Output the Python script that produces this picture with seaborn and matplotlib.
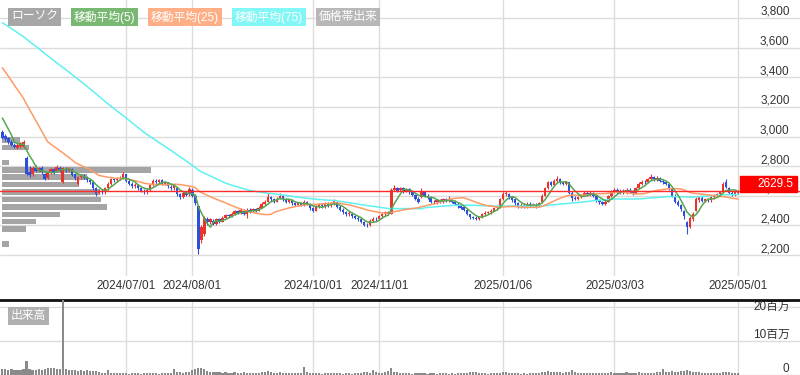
import numpy as np
import pandas as pd
import matplotlib
matplotlib.use("Agg")
import matplotlib.pyplot as plt
import matplotlib.transforms as mtransforms
from matplotlib.patches import Rectangle
import seaborn as sns

sns.set_theme(style="white")
plt.rcParams["font.family"] = ["Liberation Sans", "Noto Sans CJK JP"]

# ---------------- data ----------------
# closes before the visible window (only feed the moving averages)
pre_close = [3920, 3950, 3980, 3960, 3940, 3970, 4010, 3990, 3960, 3930,
             3950, 3980, 4000, 3970, 3940, 3920, 3950, 3990, 3960, 3930,
             3910, 3940, 3970, 3950, 3920, 3900, 3930, 3960, 3940, 3910,
             3890, 3920, 3950, 3930, 3900, 3880, 3910, 3940, 3920, 3890,
             3870, 3900, 3930, 3910, 3880, 3850,
             3780, 3750, 3720, 3740, 3700, 3680, 3710, 3690, 3660, 3690,
             3720, 3700, 3670, 3650, 3680, 3700, 3670, 3640, 3660,
             3180, 3150, 3120, 3160, 3140, 3170, 3150, 3140, 3170]

open_ = [3030, 3005, 2990, 2965, 2945, 2925, 2935, 2930, 2855, 2760,
         2745, 2790, 2770, 2790, 2745, 2720, 2760, 2780, 2770, 2790,
         2695, 2780, 2770, 2780, 2745, 2680, 2725, 2735, 2720, 2705,
         2690, 2650, 2620, 2635, 2625, 2650, 2680, 2710, 2705, 2715,
         2720, 2745, 2700, 2680, 2665, 2670, 2650, 2635, 2625, 2640,
         2670, 2700, 2690, 2705, 2680, 2690, 2660, 2650, 2650, 2610,
         2590, 2620, 2610, 2640, 2600, 2530, 2300, 2340, 2440, 2420,
         2430, 2410, 2440, 2425, 2450, 2470, 2465, 2480, 2495, 2485,
         2500, 2480, 2505, 2495, 2510, 2500, 2520, 2545, 2560, 2590,
         2575, 2560, 2580, 2600, 2575, 2560, 2570, 2550, 2540, 2550,
         2540, 2555, 2545, 2515, 2500, 2525, 2540, 2530, 2545, 2535,
         2545, 2555, 2525, 2505, 2490, 2475, 2480, 2460, 2450, 2440,
         2425, 2405, 2405, 2430, 2445, 2440, 2460, 2475, 2490, 2480,
         2640, 2650, 2640, 2650, 2635, 2645, 2625, 2605, 2580, 2590,
         2625, 2600, 2590, 2560, 2555, 2570, 2560, 2575, 2565, 2570,
         2560, 2545, 2530, 2525, 2505, 2475, 2455, 2450, 2440, 2455,
         2475, 2485, 2490, 2500, 2515, 2525, 2575, 2610, 2615, 2590,
         2575, 2550, 2530, 2540, 2530, 2545, 2535, 2540, 2530, 2555,
         2600, 2650, 2690, 2675, 2700, 2710, 2690, 2680, 2690, 2620,
         2585, 2580, 2590, 2605, 2620, 2610, 2620, 2600, 2570, 2555,
         2545, 2560, 2595, 2630, 2640, 2625, 2635, 2620, 2640, 2630,
         2615, 2650, 2680, 2695, 2690, 2710, 2725, 2710, 2720, 2700,
         2690, 2680, 2650, 2600, 2560, 2540, 2500, 2420, 2390, 2440,
         2500, 2570, 2585, 2565, 2575, 2570, 2590, 2600, 2610, 2625,
         2690, 2650, 2620, 2610, 2620]

close = [2990, 2985, 2960, 2945, 2930, 2945, 2955, 2960, 2750, 2740,
         2790, 2770, 2785, 2760, 2715, 2760, 2780, 2760, 2795, 2770,
         2785, 2770, 2785, 2740, 2720, 2725, 2735, 2720, 2705, 2690,
         2650, 2615, 2635, 2625, 2650, 2680, 2710, 2705, 2715, 2720,
         2745, 2700, 2680, 2665, 2675, 2650, 2635, 2630, 2640, 2670,
         2700, 2690, 2705, 2680, 2690, 2665, 2650, 2670, 2610, 2590,
         2620, 2605, 2645, 2600, 2550, 2240, 2390, 2450, 2420, 2440,
         2410, 2440, 2425, 2450, 2470, 2465, 2480, 2495, 2485, 2505,
         2480, 2505, 2495, 2510, 2500, 2520, 2545, 2560, 2590, 2575,
         2560, 2580, 2600, 2575, 2560, 2570, 2550, 2540, 2550, 2540,
         2555, 2545, 2515, 2500, 2525, 2540, 2530, 2545, 2535, 2550,
         2565, 2525, 2505, 2490, 2475, 2485, 2460, 2450, 2440, 2425,
         2405, 2400, 2430, 2445, 2440, 2460, 2475, 2490, 2480, 2640,
         2655, 2635, 2650, 2630, 2645, 2625, 2605, 2580, 2560, 2630,
         2600, 2590, 2560, 2555, 2570, 2560, 2575, 2565, 2575, 2560,
         2545, 2530, 2520, 2505, 2480, 2455, 2450, 2445, 2455, 2475,
         2485, 2490, 2500, 2515, 2525, 2575, 2615, 2620, 2590, 2570,
         2550, 2530, 2540, 2530, 2545, 2535, 2540, 2530, 2550, 2600,
         2650, 2690, 2675, 2700, 2715, 2690, 2680, 2690, 2620, 2585,
         2580, 2590, 2605, 2620, 2610, 2620, 2600, 2570, 2555, 2545,
         2560, 2595, 2630, 2640, 2625, 2635, 2620, 2640, 2630, 2615,
         2650, 2680, 2695, 2690, 2710, 2725, 2710, 2720, 2700, 2690,
         2680, 2650, 2600, 2560, 2540, 2510, 2460, 2390, 2450, 2480,
         2580, 2590, 2565, 2575, 2570, 2590, 2600, 2610, 2625, 2680,
         2660, 2620, 2610, 2625, 2629.5]

high = [3045, 3015, 3000, 2975, 2955, 2955, 2965, 2975, 2865, 2800,
        2800, 2805, 2795, 2800, 2755, 2770, 2790, 2790, 2805, 2800,
        2795, 2795, 2795, 2790, 2755, 2735, 2745, 2745, 2730, 2715,
        2695, 2660, 2645, 2645, 2660, 2690, 2720, 2720, 2725, 2730,
        2760, 2750, 2710, 2690, 2685, 2680, 2660, 2645, 2650, 2680,
        2715, 2710, 2715, 2710, 2700, 2695, 2670, 2680, 2655, 2620,
        2630, 2630, 2660, 2650, 2610, 2540, 2400, 2460, 2455, 2450,
        2440, 2450, 2450, 2460, 2480, 2480, 2490, 2505, 2505, 2515,
        2510, 2515, 2515, 2520, 2520, 2530, 2555, 2570, 2620, 2600,
        2585, 2590, 2620, 2605, 2585, 2580, 2575, 2560, 2560, 2560,
        2570, 2565, 2550, 2525, 2535, 2550, 2550, 2555, 2555, 2560,
        2575, 2560, 2535, 2515, 2500, 2495, 2490, 2470, 2460, 2450,
        2430, 2415, 2440, 2455, 2455, 2470, 2485, 2500, 2500, 2650,
        2670, 2660, 2660, 2660, 2655, 2655, 2635, 2610, 2590, 2650,
        2635, 2610, 2595, 2570, 2580, 2580, 2585, 2585, 2600, 2580,
        2570, 2555, 2540, 2530, 2510, 2480, 2465, 2460, 2465, 2485,
        2495, 2500, 2510, 2525, 2535, 2585, 2625, 2635, 2620, 2600,
        2580, 2555, 2550, 2550, 2555, 2555, 2550, 2550, 2560, 2610,
        2660, 2700, 2700, 2710, 2730, 2720, 2700, 2700, 2695, 2630,
        2595, 2600, 2615, 2630, 2630, 2630, 2625, 2605, 2580, 2565,
        2570, 2605, 2640, 2650, 2650, 2645, 2645, 2650, 2650, 2640,
        2660, 2690, 2705, 2705, 2720, 2745, 2735, 2730, 2725, 2710,
        2700, 2685, 2655, 2610, 2570, 2545, 2505, 2430, 2460, 2490,
        2590, 2600, 2595, 2585, 2585, 2600, 2610, 2620, 2635, 2690,
        2710, 2660, 2630, 2635, 2640]

low = [2980, 2970, 2950, 2935, 2920, 2915, 2925, 2925, 2740, 2725,
       2735, 2760, 2760, 2750, 2705, 2710, 2750, 2750, 2760, 2760,
       2685, 2760, 2760, 2730, 2705, 2670, 2715, 2710, 2695, 2680,
       2640, 2600, 2610, 2610, 2615, 2640, 2675, 2695, 2695, 2705,
       2715, 2690, 2670, 2655, 2655, 2640, 2625, 2615, 2615, 2635,
       2665, 2680, 2680, 2670, 2670, 2655, 2640, 2640, 2600, 2580,
       2585, 2595, 2600, 2590, 2540, 2205, 2280, 2330, 2405, 2410,
       2400, 2400, 2415, 2420, 2440, 2455, 2455, 2470, 2475, 2480,
       2470, 2450, 2485, 2490, 2490, 2495, 2515, 2540, 2555, 2565,
       2550, 2555, 2575, 2565, 2550, 2550, 2540, 2530, 2530, 2530,
       2530, 2535, 2505, 2490, 2495, 2515, 2520, 2520, 2525, 2525,
       2540, 2515, 2495, 2480, 2465, 2465, 2450, 2440, 2430, 2415,
       2395, 2390, 2395, 2420, 2430, 2435, 2450, 2465, 2470, 2475,
       2630, 2625, 2630, 2620, 2625, 2615, 2595, 2570, 2550, 2585,
       2590, 2580, 2550, 2545, 2545, 2550, 2550, 2555, 2555, 2550,
       2535, 2520, 2510, 2495, 2470, 2445, 2440, 2435, 2435, 2450,
       2470, 2475, 2480, 2495, 2505, 2520, 2570, 2600, 2580, 2560,
       2540, 2520, 2520, 2520, 2520, 2525, 2525, 2520, 2525, 2550,
       2595, 2645, 2665, 2670, 2695, 2680, 2670, 2670, 2610, 2565,
       2570, 2570, 2585, 2600, 2600, 2600, 2590, 2560, 2545, 2535,
       2535, 2555, 2590, 2620, 2615, 2615, 2610, 2610, 2620, 2605,
       2610, 2645, 2675, 2680, 2685, 2705, 2700, 2700, 2690, 2680,
       2670, 2640, 2590, 2550, 2530, 2500, 2440, 2345, 2380, 2430,
       2495, 2560, 2555, 2555, 2560, 2560, 2580, 2590, 2600, 2620,
       2650, 2610, 2600, 2600, 2610]

volume_m = [1.8, 1.7, 1.6, 1.7, 1.5, 1.6, 1.4, 1.7, 4.2, 1.9,
            1.6, 1.5, 1.8, 1.4, 1.9, 2.0, 2.1, 2.0, 1.7, 1.9,
            25.0, 1.7, 1.5, 1.4, 1.6, 1.3, 1.5, 1.2, 1.4, 1.1,
            1.3, 1.2, 0.9, 0.7, 0.6, 1.5, 0.6, 0.5, 0.7, 0.6,
            0.5, 0.6, 0.4, 0.5, 0.6, 0.5, 0.4, 0.6, 0.5, 0.7,
            0.6, 0.5, 0.4, 0.6, 0.5, 0.7, 0.6, 1.8, 0.8, 0.9,
            0.7, 0.8, 0.9, 1.6, 1.9, 2.1, 2.0, 1.7, 1.2, 1.0,
            0.9, 0.8, 1.0, 0.7, 0.8, 0.6, 0.7, 0.9, 0.6, 0.7,
            0.8, 0.6, 0.7, 0.5, 0.6, 0.7, 0.8, 0.9, 1.1, 0.8,
            0.7, 0.6, 0.8, 0.7, 0.6, 0.5, 0.7, 0.6, 0.5, 0.6,
            2.3, 0.9, 0.7, 0.6, 0.5, 0.6, 0.4, 0.5, 0.6, 0.5,
            0.7, 0.6, 0.5, 0.4, 0.6, 0.5, 0.4, 0.5, 0.6, 0.7,
            0.8, 0.9, 0.7, 1.5, 0.8, 0.7, 0.6, 0.9, 1.2, 2.2,
            1.0, 0.8, 0.6, 0.5, 0.6, 0.5, 0.4, 0.5, 0.6, 0.7,
            0.5, 0.4, 0.6, 0.5, 0.4, 0.5, 0.6, 0.5, 0.4, 0.5,
            0.4, 0.5, 0.6, 0.5, 0.7, 0.8, 0.9, 1.0, 0.7, 0.6,
            0.5, 0.4, 0.5, 0.6, 0.5, 0.7, 0.9, 0.8, 0.6, 0.5,
            0.6, 0.5, 0.4, 0.5, 0.4, 0.5, 0.6, 0.5, 0.7, 0.9,
            1.0, 1.1, 0.8, 0.9, 1.0, 0.8, 0.7, 0.9, 1.0, 1.4,
            0.9, 0.7, 0.6, 0.7, 0.6, 0.5, 0.6, 0.7, 0.6, 0.5,
            0.6, 0.7, 0.8, 0.7, 0.6, 0.7, 0.6, 0.8, 0.7, 0.6,
            0.7, 0.8, 0.7, 0.6, 0.7, 0.6, 0.7, 0.8, 0.9, 1.8,
            1.0, 0.9, 1.1, 1.0, 0.9, 1.2, 1.3, 1.4, 1.1, 0.9,
            1.0, 0.8, 0.7, 0.6, 0.7, 0.6, 0.5, 0.6, 0.7, 0.9,
            1.0, 0.8, 0.6, 0.5, 0.6]

# price-band volume profile (50-yen bins)
profile_price = [2975, 2925, 2875, 2825, 2775, 2725, 2675, 2625, 2575,
                 2525, 2475, 2425, 2375, 2325, 2275]
profile_vol = [1.8, 2.7, 0.0, 0.7, 14.9, 8.5, 7.7, 9.8, 9.9,
               10.5, 5.8, 3.4, 2.4, 0.0, 0.7]

tick_idx = [41, 63, 103, 125, 166, 203, 244]
tick_labels = ["2024/07/01", "2024/08/01", "2024/10/01", "2024/11/01",
               "2025/01/06", "2025/03/03", "2025/05/01"]
price_ticks = [2200, 2400, 2600, 2800, 3000, 3200, 3400, 3600, 3800]
price_tick_labels = ["2,200", "2,400", "2,600", "2,800", "3,000", "3,200",
                     "3,400", "3,600", "3,800"]
vol_ticks = [0, 10, 20]
vol_tick_labels = ["0", "10百万", "20百万"]
last_price = 2629.5
legend_labels = ["ローソク", "移動平均(5)", "移動平均(25)", "移動平均(75)", "価格帯出来"]

# ---------------- derived ----------------
n = len(close)
idx = np.arange(n)
all_close = pd.Series(pre_close + close, dtype=float)
npre = len(pre_close)
ma5 = all_close.rolling(5).mean().iloc[npre:].to_numpy()
ma25 = all_close.rolling(25).mean().iloc[npre:].to_numpy()
ma75 = all_close.rolling(75).mean().iloc[npre:].to_numpy()

UP = "#e8342c"
DOWN = "#2e50d8"
C5 = "#55a650"
C25 = "#ff9a66"
C75 = "#5ff0f0"
GRID = "#dcdcdc"
TXT = "#333333"

W, H = 800, 375
PX_DAY = 3.015
X0 = 2.4
xlim = (-X0 / PX_DAY, (W - X0) / PX_DAY)

fig = plt.figure(figsize=(8, 3.75), dpi=100)
top_h = 276
ax_p = fig.add_axes([0, 1 - top_h / H, 1, top_h / H])
ax_v = fig.add_axes([0, 0, 1, 75 / H])

yen_px = 1600 / 237.0
ylim_p = (2200 - (top_h - 255) * yen_px, 3800 + 18 * yen_px)

for ax in (ax_p, ax_v):
    ax.set_xlim(*xlim)
    ax.set_facecolor("white")
    ax.grid(True, color=GRID, lw=1)
    ax.set_axisbelow(True)
    for s in ax.spines.values():
        s.set_visible(False)

# ---- price panel ----
ax_p.set_ylim(*ylim_p)

# volume profile
ax_p.barh(profile_price, np.array(profile_vol) * 10 / PX_DAY, height=37,
          left=xlim[0] + 2 / PX_DAY, color="#9b9b9b", alpha=0.9, zorder=2,
          linewidth=0)

# candles
o = np.array(open_, float); c = np.array(close, float)
hi = np.array(high, float); lo = np.array(low, float)
cols = np.where(c >= o, UP, DOWN)
ax_p.vlines(idx, lo, hi, colors=cols, lw=0.8, zorder=3)
body = np.maximum(np.abs(c - o), 4)
ax_p.bar(idx, body, bottom=np.minimum(o, c), width=0.8, color=cols,
         linewidth=0, zorder=3)

sns.lineplot(x=idx, y=ma75, ax=ax_p, color=C75, lw=1.1, zorder=4, legend=False)
sns.lineplot(x=idx, y=ma25, ax=ax_p, color=C25, lw=1.1, zorder=4, legend=False)
sns.lineplot(x=idx, y=ma5, ax=ax_p, color=C5, lw=1.1, zorder=4, legend=False)

ax_p.axhline(last_price, color="#ff2a2a", lw=1, zorder=4)

ax_p.set_xticks(tick_idx, tick_labels)
ax_p.tick_params(axis="x", length=0, pad=3, labelsize=8.5, labelcolor=TXT)
ax_p.yaxis.tick_right()
ax_p.set_yticks(price_ticks, price_tick_labels, ha="right", va="bottom")
ax_p.tick_params(axis="y", length=0, pad=-7.5, labelsize=8.5, labelcolor=TXT)
ax_p.set_xlabel(""); ax_p.set_ylabel("")

blend = mtransforms.blended_transform_factory(ax_p.transAxes, ax_p.transData)
ax_p.add_patch(Rectangle((740 / W, last_price - 0.5 * yen_px), 57 / W,
                         16 * yen_px, transform=blend, color="#ff0000",
                         zorder=6, clip_on=False))
ax_p.text(793 / W, last_price + 7.5 * yen_px, f"{last_price}", transform=blend,
          ha="right", va="center", color="white", fontsize=8.5, zorder=7)

# legend chips
chip_left = [8, 71, 148, 232, 316]
chip_col = ["#a2a2a2", "#72b46b", "#ffab80", "#7cf6f6", "#b4b4b4"]
for lab, xl, col in zip(legend_labels, chip_left, chip_col):
    fig.text((xl + 3) / W, 1 - 17 / H, lab, ha="left", va="center",
             color="white", fontsize=8.5,
             bbox=dict(boxstyle="square,pad=0.22", fc=col, ec="none", alpha=0.95))

# ---- volume panel ----
ax_v.set_ylim(0, 75 / 34.0 * 10)
ax_v.bar(idx, volume_m, width=0.7, color="#8a8a8a", linewidth=0, zorder=3)
ax_v.set_xticks(tick_idx, [""] * len(tick_idx))
ax_v.tick_params(axis="x", length=0)
ax_v.yaxis.tick_right()
ax_v.set_yticks(vol_ticks, vol_tick_labels, ha="right", va="bottom")
ax_v.tick_params(axis="y", length=0, pad=-7.5, labelsize=8.5, labelcolor=TXT)
ax_v.get_yticklabels()[-1].set_va("center")
ax_v.spines["top"].set_visible(True)
ax_v.spines["top"].set_color("#111111")
ax_v.spines["top"].set_linewidth(2)

fig.text(11 / W, 1 - 316 / H, "出来高", ha="left", va="center", color="white",
         fontsize=8.5, bbox=dict(boxstyle="square,pad=0.22", fc="#b0b0b0", ec="none"))

fig.savefig("out.png", dpi=100)
